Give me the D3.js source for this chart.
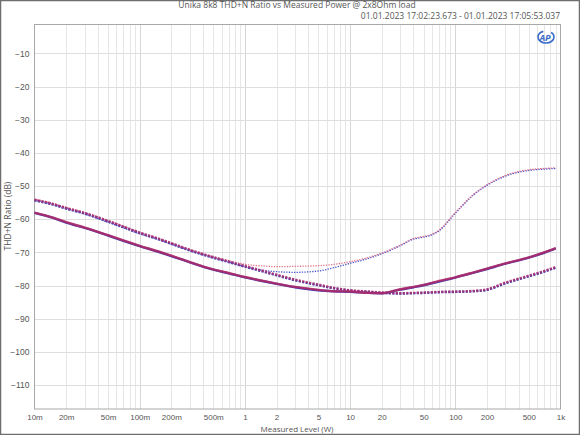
<!DOCTYPE html>
<html><head><meta charset="utf-8">
<script src="https://cdn.jsdelivr.net/npm/d3@7"></script>
<style>body{margin:0;background:#fff}svg{display:block;font-family:"Open Sans","DejaVu Sans",sans-serif}</style>
</head><body><svg id="c" width="580" height="435"></svg>
<script>
const titleText = "Unika 8k8 THD+N Ratio vs Measured Power @ 2x8Ohm load";
const dateText = "01.01.2023 17:02:23.673 - 01.01.2023 17:05:53.037";
const xLabel = "Measured Level (W)";
const yLabel = "THD+N Ratio (dB)";
const xTicks = [0.01,0.02,0.05,0.1,0.2,0.5,1,2,5,10,20,50,100,200,500,1000];
const xTickLabels = ["10m","20m","50m","100m","200m","500m","1","2","5","10","20","50","100","200","500","1k"];
const yTicks = [-10,-20,-30,-40,-50,-60,-70,-80,-90,-100,-110];

const power = [0.01,0.015,0.02,0.03,0.05,0.07,0.1,0.15,0.2,0.3,0.5,0.7,1,1.5,2,3,5,7,10,15,20,30,40,50,60,70,100,150,200,300,500,700,900];
// thick solid pair
const solidBlue = [-58.1,-59.6,-61.0,-62.6,-64.9,-66.5,-68.1,-69.8,-71.1,-73.0,-75.2,-76.3,-77.5,-78.7,-79.5,-80.5,-81.4,-81.7,-81.9,-82.2,-82.3,-81.2,-80.5,-79.9,-79.3,-78.8,-77.6,-76.1,-75.0,-73.4,-71.6,-70.1,-68.8];
const solidRed  = [-58.0,-59.5,-60.9,-62.5,-64.8,-66.4,-68.0,-69.7,-71.0,-72.9,-75.1,-76.2,-77.4,-78.6,-79.4,-80.4,-81.3,-81.7,-81.8,-82.2,-82.3,-81.1,-80.4,-79.8,-79.2,-78.6,-77.5,-76.0,-74.9,-73.3,-71.5,-70.0,-68.7];
// thick dashed pair
const dashBlue = [-54.3,-55.6,-56.8,-58.3,-60.7,-62.4,-64.2,-66.0,-67.4,-69.4,-71.6,-72.9,-74.3,-75.8,-76.9,-78.4,-79.9,-80.8,-81.5,-81.9,-82.2,-82.4,-82.3,-82.2,-82.1,-82.0,-81.9,-81.7,-81.3,-79.3,-77.2,-75.8,-74.6];
const dashRed  = [-54.1,-55.4,-56.6,-58.1,-60.5,-62.2,-64.0,-65.8,-67.2,-69.2,-71.4,-72.7,-74.1,-75.6,-76.7,-78.2,-79.7,-80.7,-81.4,-81.8,-82.1,-82.3,-82.2,-82.1,-82.0,-81.9,-81.8,-81.6,-81.1,-79.1,-77.0,-75.6,-74.4];
// thin dotted pair
const dotBlue = [-54.2,-55.5,-56.7,-58.4,-60.9,-62.6,-64.4,-66.1,-67.5,-69.5,-71.6,-72.9,-74.3,-75.4,-75.8,-76.0,-75.6,-74.6,-73.3,-71.8,-70.4,-68.0,-66.0,-65.4,-64.7,-63.5,-58.2,-52.6,-49.8,-47.0,-45.3,-44.9,-44.7];
const dotRed  = [-53.9,-55.2,-56.4,-58.0,-60.4,-62.1,-64.0,-65.8,-67.2,-69.2,-71.3,-72.5,-73.6,-74.1,-74.3,-74.2,-74.0,-73.6,-72.8,-71.5,-70.2,-67.8,-65.8,-65.2,-64.5,-63.3,-58.0,-52.4,-49.6,-46.8,-45.1,-44.7,-44.5];

const svg = d3.select("#c");
const L = 34.5, R = 560.5, T = 24.5, B = 409;
const x = d3.scaleLog().domain([0.01, 1000]).range([L, R]);
const y = d3.scaleLinear().domain([-1.3, -117.2]).range([T, B]);

svg.append("rect").attr("x",0.5).attr("y",0.5).attr("width",579).attr("height",434)
  .attr("fill","#fff").attr("stroke","#6e6e6e").attr("stroke-width",1.5);

// grid
const g = svg.append("g");
const minor = [];
for (let d = -2; d < 3; d++) for (let m = 2; m <= 9; m++) minor.push(m * Math.pow(10, d));
g.selectAll(".mn").data(minor).join("line")
  .attr("x1",d=>Math.round(x(d))+0.5).attr("x2",d=>Math.round(x(d))+0.5).attr("y1",T).attr("y2",B)
  .attr("stroke","#e6e6e6").attr("stroke-width",1);
g.selectAll(".mj").data([0.1,1,10,100]).join("line")
  .attr("x1",d=>Math.round(x(d))+0.5).attr("x2",d=>Math.round(x(d))+0.5).attr("y1",T).attr("y2",B)
  .attr("stroke","#d6d6d6").attr("stroke-width",1);
g.selectAll(".hy").data(yTicks).join("line")
  .attr("x1",L).attr("x2",R).attr("y1",d=>Math.round(y(d))+0.5).attr("y2",d=>Math.round(y(d))+0.5)
  .attr("stroke","#dedede").attr("stroke-width",1);

svg.append("rect").attr("x",L).attr("y",T).attr("width",R-L).attr("height",B-T)
  .attr("fill","none").attr("stroke","#a8a8a8").attr("stroke-width",1);

// axes labels
const xa = d3.axisBottom(x).tickValues(xTicks).tickFormat((d,i)=>xTickLabels[i]).tickSize(0).tickPadding(5);
const xg = svg.append("g").attr("transform",`translate(0,${B})`).call(xa);
xg.select(".domain").remove();
xg.selectAll("text").attr("fill","#555").attr("font-size",8);
const ya = d3.axisLeft(y).tickValues(yTicks).tickFormat(d3.format("d")).tickSize(0).tickPadding(5);
const yg = svg.append("g").attr("transform",`translate(${L},0)`).call(ya);
yg.select(".domain").remove();
yg.selectAll("text").attr("fill","#555").attr("font-size",8.5);

svg.append("text").attr("x",297).attr("y",431.5).attr("text-anchor","middle").attr("font-size",8).attr("fill","#555").text(xLabel);
svg.append("text").attr("transform","translate(11,216) rotate(-90)").attr("text-anchor","middle").attr("font-size",8.5).attr("fill","#555").text(yLabel);
svg.append("text").attr("x",297).attr("y",8).attr("text-anchor","middle").attr("font-size",8.5).attr("fill","#555").text(titleText);
svg.append("text").attr("x",560).attr("y",19).attr("text-anchor","end").attr("font-size",8.5).attr("fill","#555").text(dateText);

// AP logo
const lg = svg.append("g").attr("transform","translate(546,37)");
lg.append("ellipse").attr("rx",8).attr("ry",6).attr("fill","none").attr("stroke","#3a6cc8").attr("stroke-width",1.6).attr("stroke-dasharray","30,8");
lg.append("text").attr("x",-1).attr("y",3.5).attr("text-anchor","middle").attr("font-size",9).attr("font-weight","bold").attr("font-style","italic").attr("fill","#3a6cc8").text("AP");

// curves
const line = vals => d3.line().x((d,i)=>x(power[i])).y(d=>y(d)).curve(d3.curveMonotoneX)(vals);
const clip = svg.append("g");
function draw(vals, color, w, dash, op) {
  clip.append("path").attr("d", line(vals)).attr("fill","none").attr("stroke",color)
    .attr("stroke-width",w).attr("stroke-dasharray",dash).attr("opacity",op).attr("stroke-linejoin","round");
}
draw(dotBlue, "#4a55d0", 1.3, "1.3,1.3", 1);
draw(dotRed, "#dc5a78", 1.3, "1.3,1.3", 0.85);
draw(dashBlue, "#4040b8", 2.4, "2.2,1.3", 1);
draw(dashRed, "#b42c6a", 2.4, "2.2,1.3", 0.8);
draw(solidBlue, "#4040b8", 2.4, null, 1);
draw(solidRed, "#b8285f", 2.4, null, 0.82);
</script></body></html>
